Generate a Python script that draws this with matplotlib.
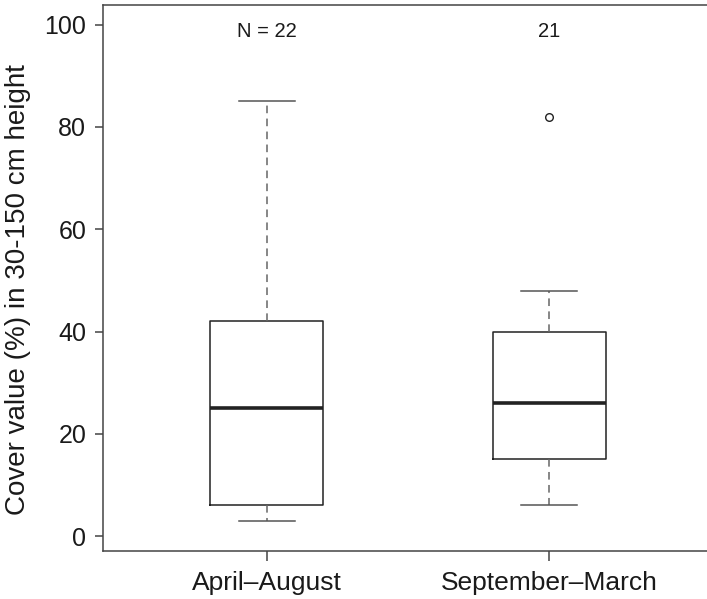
import matplotlib.pyplot as plt

plt.rcParams['font.family'] = ['Liberation Sans', 'DejaVu Sans']

# Box statistics
groups = ['April\u2013August', 'September\u2013March']
n_labels = ['N = 22', '21']
whislo = [3, 6]
q1 = [6, 15]
med = [25, 26]
q3 = [42, 40]
whishi = [85, 48]
fliers = [[], [82]]

stats = []
for i in range(len(groups)):
    stats.append(dict(label=groups[i], whislo=whislo[i], q1=q1[i], med=med[i],
                      q3=q3[i], whishi=whishi[i], fliers=fliers[i]))

fig = plt.figure(figsize=(7.07, 5.99), dpi=100)
# the original plot region runs just past the right edge of the image
ax = fig.add_axes([103 / 707, 1 - 551 / 599, 610 / 707, 546.3 / 599])

axis_col = '#444444'
ax.bxp(stats, positions=[1, 2], widths=0.4, showfliers=True,
       boxprops=dict(color='#222222', linewidth=1.1),
       medianprops=dict(color='#222222', linewidth=2.6),
       whiskerprops=dict(color='#666666', linewidth=1.1, linestyle=(0, (5, 3.5))),
       capprops=dict(color='#555555', linewidth=1.1),
       flierprops=dict(marker='o', markerfacecolor='white', markeredgecolor='#222222',
                       markersize=5.5, markeredgewidth=1.0),
       capwidths=0.2)

ax.set_xlim(0.42, 2.58)
ax.set_ylim(-2.9, 103.9)
ax.set_yticks([0, 20, 40, 60, 80, 100])
ax.set_xticks([1, 2])
ax.set_xticklabels(groups)

for s in ax.spines.values():
    s.set_color(axis_col)
    s.set_linewidth(1.1)
ax.tick_params(axis='y', colors=axis_col, labelcolor='#1a1a1a', labelsize=18,
               length=6, width=1.1, direction='out', pad=6)
ax.tick_params(axis='x', colors=axis_col, labelcolor='#1a1a1a', labelsize=19,
               length=7.2, width=1.1, direction='out', pad=7)

ax.set_ylabel('Cover value (%) in 30-150 cm height', fontsize=20, color='#1a1a1a')
ax.yaxis.set_label_coords(-0.139, 0.478)
ax.yaxis.label.set_va('center')

for i, t in enumerate(n_labels):
    ax.text(i + 1, 98.6, t, ha='center', va='center', fontsize=14.5, color='#1a1a1a')

fig.savefig('out.png', dpi=100)
